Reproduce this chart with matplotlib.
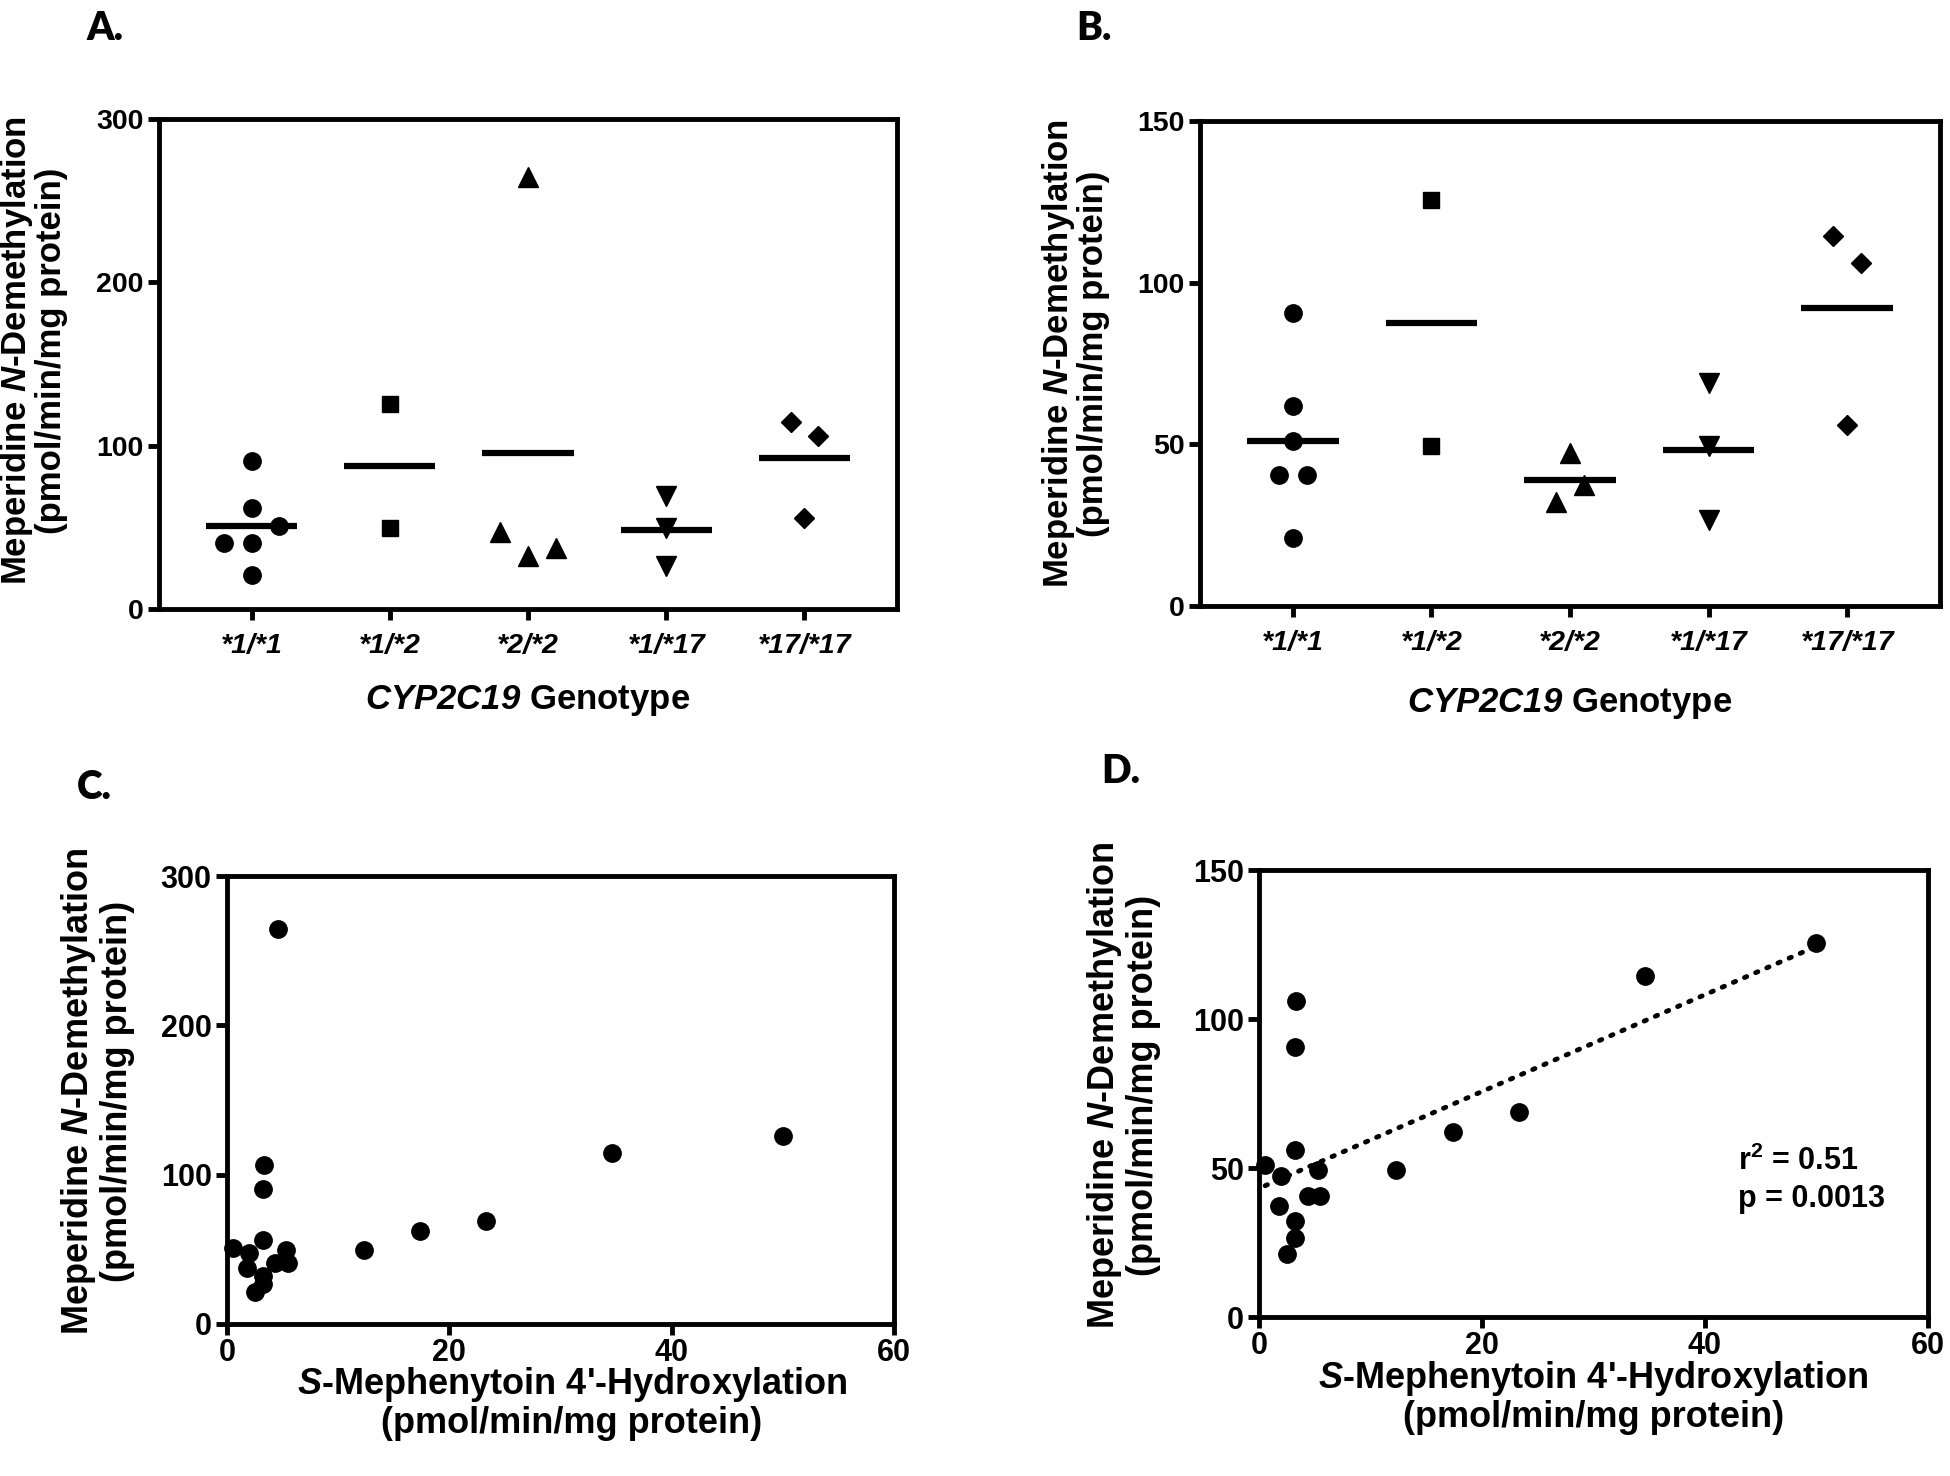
import numpy as np
import matplotlib.pyplot as plt

plt.rcParams['font.family'] = ['Liberation Sans', 'DejaVu Sans']
plt.rcParams['font.weight'] = 'bold'
plt.rcParams['mathtext.fontset'] = 'custom'
plt.rcParams['mathtext.rm'] = 'Liberation Sans:bold'
plt.rcParams['mathtext.it'] = 'Liberation Sans:italic:bold'
plt.rcParams['mathtext.bf'] = 'Liberation Sans:bold'
plt.rcParams['mathtext.bfit'] = 'Liberation Sans:italic:bold'

# data (pmol/min/mg protein)
genotypes = ['*1/*1', '*1/*2', '*2/*2', '*1/*17', '*17/*17']
g_1_1 = [90.7, 62.0, 40.6, 40.6, 51.0, 21.1]
g_1_2 = [125.6, 49.5]
g_2_2 = [47.4, 32.3, 37.3, 264.5]
g_1_17 = [68.9, 49.5, 26.6]
g_17_17 = [114.4, 106.2, 56.0]
groups = [g_1_1, g_1_2, g_2_2, g_1_17, g_17_17]

s_meph = [0.56, 1.96, 1.79, 2.5, 3.25, 3.25, 3.25, 3.25, 3.3, 4.6,
          4.36, 5.3, 5.5, 12.3, 17.4, 23.3, 34.6, 50.0]
meper = [51.0, 47.4, 37.3, 21.1, 26.6, 32.3, 56.0, 90.7, 106.2, 264.5,
         40.6, 49.5, 40.6, 49.5, 62.0, 68.9, 114.4, 125.6]

r2_text = 'r$^{2}$ = 0.51'
p_text = 'p = 0.0013'

ylab = 'Meperidine $N$-Demethylation\n(pmol/min/mg protein)'
xlab_geno = r'$\mathbfit{CYP2C19}$ Genotype'
xlab_smeph = "$S$-Mephenytoin 4'-Hydroxylation\n(pmol/min/mg protein)"

markers = ['o', 's', '^', 'v', 'D']
msizes = [12.5, 12, 14, 14, 10.5]


def spread(vals, thr, step=0.2):
    # side by side offsets for points that would overlap (like prism)
    vals = np.asarray(vals)
    order = np.argsort(vals, kind='stable')
    offs = np.zeros(len(vals))
    grp = [[order[0]]]
    for a, b in zip(order[:-1], order[1:]):
        if vals[b] - vals[a] < thr:
            grp[-1].append(b)
        else:
            grp.append([b])
    for g in grp:
        g = sorted(g)
        n = len(g)
        for k, i in enumerate(g):
            offs[i] = (k - (n - 1) / 2) * step
    return offs


def style(ax, tsize):
    for s in ax.spines.values():
        s.set_linewidth(3.5)
    ax.tick_params(direction='out', length=8, width=3.5, labelsize=tsize,
                   top=False, right=False)
    ax.tick_params(axis='y', pad=3)


def geno_panel(ax, ymax, yticks, thr):
    for i, vals in enumerate(groups):
        v = np.array([x for x in vals if x <= ymax])
        off = spread(v, thr)
        ax.plot(i + off, v, ls='none', marker=markers[i], ms=msizes[i],
                color='black', clip_on=False)
        ax.hlines(np.mean(v), i - 0.33, i + 0.33, color='black', lw=4.5)
    ax.set_xlim(-0.67, 4.67)
    ax.set_ylim(0, ymax)
    ax.set_yticks(yticks)
    ax.set_xticks(range(len(genotypes)))
    ax.set_xticklabels(genotypes, fontstyle='italic', fontsize=22)
    style(ax, 20.5)
    ax.tick_params(axis='x', pad=9)


def corr_panel(ax, ymax, yticks):
    x = np.array(s_meph)
    y = np.array(meper)
    keep = y <= ymax
    ax.plot(x[keep], y[keep], ls='none', marker='o', ms=12.5, color='black',
            clip_on=False)
    ax.set_xlim(0, 60)
    ax.set_ylim(0, ymax)
    ax.set_xticks([0, 20, 40, 60])
    ax.set_yticks(yticks)
    style(ax, 22)
    ax.tick_params(axis='x', pad=2)


fig = plt.figure(figsize=(19.5, 14.76), dpi=100)

axA = fig.add_axes([0.0815, 0.5874, 0.3785, 0.332])
geno_panel(axA, 300, [0, 100, 200, 300], 10.5)
axA.text(-0.171, 0.527, ylab, transform=axA.transAxes, rotation=90,
         ha='center', va='center', fontsize=25, linespacing=1.0)
axA.text(0.5, -0.186, xlab_geno, transform=axA.transAxes, ha='center',
         va='center', fontsize=25)

axB = fig.add_axes([0.6154, 0.5894, 0.3795, 0.3286])
geno_panel(axB, 150, [0, 50, 100, 150], 9)
axB.text(-0.169, 0.52, ylab, transform=axB.transAxes, rotation=90,
         ha='center', va='center', fontsize=25, linespacing=1.0)
axB.text(0.5, -0.2, xlab_geno, transform=axB.transAxes, ha='center',
         va='center', fontsize=25)

axC = fig.add_axes([0.1164, 0.103, 0.342, 0.3035])
corr_panel(axC, 300, [0, 100, 200, 300])
axC.text(-0.195, 0.52, ylab, transform=axC.transAxes, rotation=90,
         ha='center', va='center', fontsize=26, linespacing=1.1)
axC.text(0.517, -0.092, xlab_smeph, transform=axC.transAxes, ha='center',
         va='top', fontsize=26, linespacing=1.05)

axD = fig.add_axes([0.6456, 0.1077, 0.343, 0.3028])
corr_panel(axD, 150, [0, 50, 100, 150])
xs = np.array(s_meph)
ys = np.array(meper)
m = ys <= 150
slope, icpt = np.polyfit(xs[m], ys[m], 1)
xl = np.array([xs[m].min(), xs[m].max()])
axD.plot(xl, slope * xl + icpt, color='black', lw=3.5,
         ls=(0, (0.5, 2.0)), dash_capstyle='round')
axD.text(0.716, 0.329, r2_text, transform=axD.transAxes, fontsize=22,
         va='baseline')
axD.text(0.716, 0.246, p_text, transform=axD.transAxes, fontsize=22,
         va='baseline')
axD.text(-0.203, 0.519, ylab, transform=axD.transAxes, rotation=90,
         ha='center', va='center', fontsize=26, linespacing=1.1)
axD.text(0.5, -0.095, xlab_smeph, transform=axD.transAxes, ha='center',
         va='top', fontsize=26, linespacing=1.05)

# panel letters
lab = dict(fontsize=28, fontweight='heavy', family=['Lato', 'DejaVu Sans'],
           va='baseline')
fig.text(0.0446, 0.973, 'A.', **lab)
fig.text(0.552, 0.973, 'B.', **lab)
fig.text(0.0395, 0.459, 'C.', **lab)
fig.text(0.565, 0.4695, 'D.', **lab)

fig.savefig('out.png', dpi=100)
